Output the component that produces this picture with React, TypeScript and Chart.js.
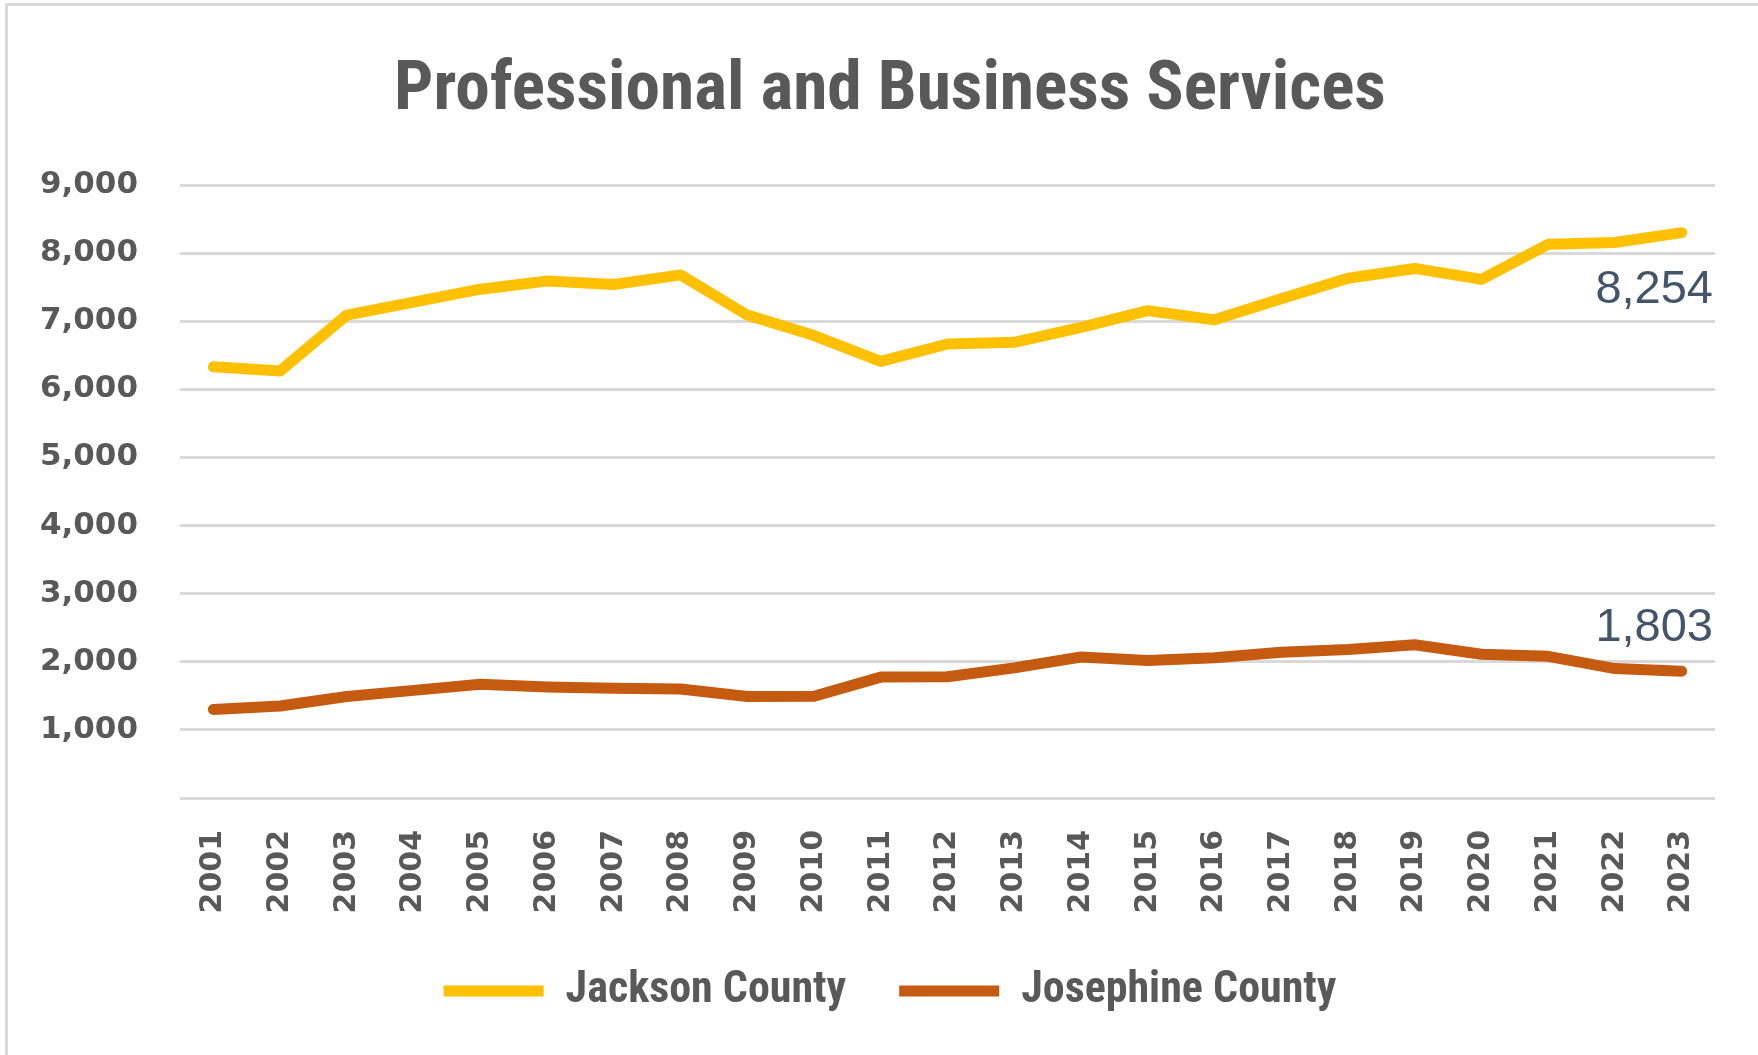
import React, { useEffect, useRef } from "react";
import { Chart, registerables } from "chart.js";

Chart.register(...registerables);

const TITLE = "Professional and Business Services";
const years = [
  "2001", "2002", "2003", "2004", "2005", "2006", "2007", "2008", "2009", "2010", "2011", "2012",
  "2013", "2014", "2015", "2016", "2017", "2018", "2019", "2020", "2021", "2022", "2023",
];
const jacksonCounty = [
  6330, 6270, 7090, 7280, 7470, 7590, 7540, 7680, 7090, 6790, 6410, 6665,
  6690, 6910, 7155, 7020, 7330, 7630, 7775, 7615, 8130, 8155, 8300,
];
const josephineCounty = [
  1300, 1350, 1490, 1580, 1670, 1630, 1610, 1600, 1490, 1495, 1775, 1780,
  1910, 2070, 2020, 2060, 2140, 2180, 2250, 2110, 2080, 1900, 1860,
];
const seriesNames = ["Jackson County", "Josephine County"];
const seriesColors = ["#FFC000", "#C55A11"];
const endLabels = ["8,254", "1,803"];
const yMin = 0;
const yMax = 9000;
const yStep = 1000;

function hasFont(ctx: CanvasRenderingContext2D, fam: string) {
  const s = "Professional and Business Services 0123456789";
  ctx.font = "bold 50px monospace";
  const a = ctx.measureText(s).width;
  ctx.font = `bold 50px "${fam}", monospace`;
  const b = ctx.measureText(s).width;
  return Math.abs(a - b) > 0.5;
}

function fitSize(ctx: CanvasRenderingContext2D, fam: string, weight: string, text: string, target: number) {
  ctx.font = `${weight} 100px "${fam}"`;
  const w = ctx.measureText(text).width;
  return (100 * target) / w;
}

export default function App() {
  const ref = useRef<HTMLCanvasElement>(null);

  useEffect(() => {
    const canvas = ref.current;
    if (!canvas) return;
    const mc = document.createElement("canvas").getContext("2d") as CanvasRenderingContext2D;
    const candidates = ["Liberation Sans Narrow", "Arial Narrow", "Roboto Condensed", "Roboto"];
    let narrow = "Roboto";
    for (const c of candidates) {
      if (hasFont(mc, c)) { narrow = c; break; }
    }
    const titleSize = Math.min(72, fitSize(mc, narrow, "bold", TITLE, 992));
    const legendSize = Math.min(44, fitSize(mc, narrow, "bold", seriesNames[0], 284));
    const titleLH = 1.2;
    const titleTop = 92 - (titleSize * titleLH) / 2;
    const titleBottom = 185 - titleTop - titleSize * titleLH;

    const endLabelPlugin = {
      id: "endLabels",
      afterDatasetsDraw(chart: any) {
        const ctx = chart.ctx as CanvasRenderingContext2D;
        const offsets = [57, -43];
        chart.data.datasets.forEach((_ds: any, i: number) => {
          const meta = chart.getDatasetMeta(i);
          const pt = meta.data[meta.data.length - 1];
          if (!pt) return;
          ctx.save();
          ctx.font = `47px "Liberation Sans", Arial, sans-serif`;
          ctx.fillStyle = "#44546A";
          ctx.textAlign = "right";
          ctx.textBaseline = "middle";
          ctx.fillText(endLabels[i], chart.chartArea.right - 2, pt.y + offsets[i]);
          ctx.restore();
        });
      },
    };

    const lineStyle = {
      borderWidth: 11,
      borderCapStyle: "round",
      borderJoinStyle: "round",
      pointRadius: 0,
      tension: 0,
    };

    const chart = new Chart(canvas, {
      type: "line",
      data: {
        labels: years,
        datasets: [
          {
            label: seriesNames[0],
            data: jacksonCounty,
            borderColor: seriesColors[0],
            backgroundColor: seriesColors[0],
            ...lineStyle,
          },
          {
            label: seriesNames[1],
            data: josephineCounty,
            borderColor: seriesColors[1],
            backgroundColor: seriesColors[1],
            ...lineStyle,
          },
        ],
      },
      options: {
        responsive: false,
        animation: false,
        devicePixelRatio: 1,
        events: [],
        layout: { padding: { left: 22, right: 0, top: 0, bottom: 32 } },
        plugins: {
          title: {
            display: true,
            text: TITLE,
            color: "#595959",
            font: { family: `"${narrow}", sans-serif`, size: titleSize, weight: "bold", lineHeight: titleLH },
            padding: { top: titleTop, bottom: titleBottom },
          },
          legend: {
            position: "bottom",
            labels: {
              usePointStyle: true,
              pointStyle: "line",
              pointStyleWidth: 100,
              color: "#595959",
              font: { family: `"${narrow}", sans-serif`, size: legendSize, weight: "bold" },
              padding: 53,
            },
          },
          tooltip: { enabled: false },
        },
        scales: {
          x: {
            offset: true,
            grid: { display: false, drawTicks: false },
            border: { display: false },
            ticks: {
              color: "#595959",
              font: { family: '"DejaVu Sans", sans-serif', size: 30, weight: "bold" },
              minRotation: 90,
              maxRotation: 90,
              autoSkip: false,
              padding: 32,
            },
            afterFit: (s: any) => { s.height = 118; },
          },
          y: {
            min: yMin,
            max: yMax,
            ticks: {
              stepSize: yStep,
              color: "#595959",
              font: { family: '"DejaVu Sans", sans-serif', size: 31, weight: "bold" },
              padding: 42,
              callback: (v: any) => (Number(v) === 0 ? "" : Number(v).toLocaleString("en-US")),
            },
            grid: { color: "#D9D9D9", lineWidth: 3, drawTicks: false },
            border: { display: false },
            afterFit: (s: any) => { s.width = 158; },
          },
          yRight: {
            position: "right",
            display: true,
            grid: { display: false },
            border: { display: false },
            ticks: { display: false },
            afterFit: (s: any) => { s.width = 43; },
          },
        },
      } as any,
      plugins: [endLabelPlugin],
    });
    return () => chart.destroy();
  }, []);

  return (
    <div style={{ position: "fixed", left: 0, top: 0, width: 1758, height: 1055, background: "#FFFFFF" }}>
      <canvas ref={ref} width={1758} height={1055} style={{ position: "absolute", left: 0, top: 0 }} />
      <div
        style={{
          position: "absolute",
          left: 5,
          top: 3,
          right: 0,
          bottom: 0,
          borderTop: "3px solid #D9D9D9",
          borderLeft: "3px solid #D9D9D9",
          pointerEvents: "none",
        }}
      />
    </div>
  );
}
